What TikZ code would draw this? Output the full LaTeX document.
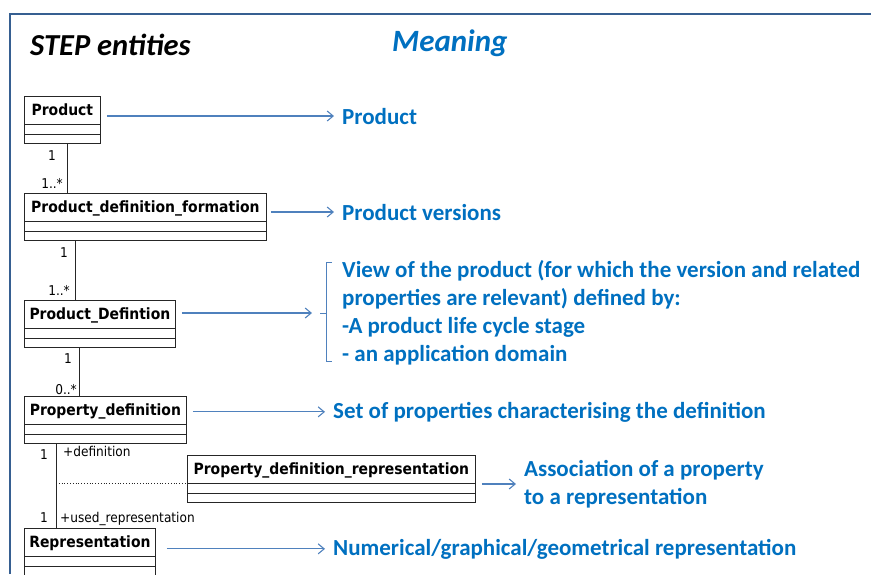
\documentclass[tikz,border=0pt]{standalone}
\usepackage{fontspec}
\setmainfont{Carlito}
\newfontfamily\umlfont{DejaVu Sans Condensed}
\usetikzlibrary{shapes.multipart,arrows.meta,positioning,calc}

\definecolor{meaningblue}{RGB}{0,112,192}
\definecolor{arrowblue}{RGB}{79,129,189}
\definecolor{framecol}{RGB}{54,95,145}

% class box: name part plus two empty compartments
\newcommand{\hdstrut}{\rule[-5pt]{0pt}{21pt}}
\newcommand{\cmpt}{\rule{0pt}{3pt}}
\newcommand{\entname}[1]{\hdstrut #1\nodepart{two}\cmpt\nodepart{three}\cmpt}

\tikzset{
  entity/.style={draw=black!85, line width=0.8pt, rectangle split, rectangle split parts=3,
    inner ysep=3pt, inner xsep=4pt, anchor=north west,
    font=\umlfont\bfseries\fontsize{15.5}{17}\selectfont},
  mult/.style={font=\umlfont\fontsize{13.5}{15}\selectfont, inner sep=0pt},
  meaning/.style={font=\bfseries\fontsize{23}{28}\selectfont, text=meaningblue, inner sep=0pt, align=left},
  flow/.style={->, arrowblue, line width=1.1pt, shorten <=6pt, shorten >=8pt},
  link/.style={black!85, line width=0.8pt},
}

\begin{document}
\begin{tikzpicture}[x=1pt, y=-1pt, >={Straight Barb[length=6pt,width=10pt]}]
\useasboundingbox (0,0) rectangle (871,574);
% frame
\draw[framecol, line width=2pt] (10,574) -- (10,14) -- (871,14);

% headings
\node[font=\bfseries\itshape\fontsize{30.5}{36}\selectfont, anchor=base west, inner sep=0pt] (title) at (30,55) {STEP entities};
\node[font=\bfseries\itshape\fontsize{31}{36}\selectfont, text=meaningblue, anchor=base west, inner sep=0pt] (head) at (392,51) {Meaning};

% STEP entities
\node[entity, minimum width=76pt] (prod) at (24,96) {\entname{Product}};
\node[entity, minimum width=242pt] (pdf) at (24,193) {\entname{Product\_definition\_formation}};
\node[entity, minimum width=151pt] (pd) at (24,300) {\entname{Product\_Defintion}};
\node[entity, minimum width=162pt] (prop) at (24,396) {\entname{Property\_definition}};
\node[entity, minimum width=288pt] (pdr) at (187,455) {\entname{Property\_definition\_representation}};
\node[entity, minimum width=131pt] (rep) at (24,528) {\entname{Representation}};

% associations
\coordinate (v1) at (67,0);
\coordinate (v2) at (75,0);
\coordinate (v3) at (79,0);
\coordinate (v4) at (56,0);
\draw[link] (prod.south -| v1) -- (pdf.north -| v1);
\draw[link] (pdf.south -| v2) -- (pd.north -| v2);
\draw[link] (pd.south -| v3) -- (prop.north -| v3);
\draw[link] (prop.south -| v4) -- (rep.north -| v4);
\draw[link, dotted] (pdr.text split west -| v4) -- (pdr.text split west);

\node[mult, anchor=base east] (m1) at (56,160) {1};
\node[mult, anchor=base east] (m2) at (63,188) {1..*};
\node[mult, anchor=base east] (m3) at (68,257) {1};
\node[mult, anchor=base east] (m4) at (70,295) {1..*};
\node[mult, anchor=base east] (m5) at (72,363) {1};
\node[mult, anchor=base east] (m6) at (77,394) {0..*};
\node[mult, anchor=base east] (m7) at (48,459) {1};
\node[mult, anchor=base west] (r1) at (63,456) {+definition};
\node[mult, anchor=base east] (m8) at (48,522) {1};
\node[mult, anchor=base west] (r2) at (60,522) {+used\_representation};

% meanings
\node[meaning, anchor=base west] (t1) at (342,124) {Product};
\node[meaning, anchor=base west] (t2) at (342,220) {Product versions};
\node[meaning, anchor=west] (t3) at (342,313) {View of the product (for which the version and related\\properties are relevant) defined by:\\-A product life cycle stage\\- an application domain};
\node[meaning, anchor=base west] (t4) at (333,418) {Set of properties characterising the definition};
\node[meaning, anchor=west] (t5) at (524,484) {Association of a property\\to a representation};
\node[meaning, anchor=base west] (t6) at (333,555) {Numerical/graphical/geometrical representation};

\draw[arrowblue, line width=0.8pt] ([xshift=-10pt,yshift=-2pt]t3.north west) -| ([xshift=-16pt,yshift=4pt]t3.south west) -- ([xshift=-10pt,yshift=4pt]t3.south west);
\draw[arrowblue, line width=0.8pt] ([xshift=-16pt]t3.west) -- ([xshift=-22pt]t3.west);

\draw[flow] (prod.east |- t1.west) -- (t1.west);
\draw[flow, shorten <=4pt] (pdf.east |- t2.west) -- (t2.west);
\draw[flow] (pd.east |- t3.west) -- ([xshift=-22pt]t3.west);
\draw[flow] (prop.east |- t4.west) -- (t4.west);
\draw[flow] (pdr.east |- t5.west) -- (t5.west);
\draw[flow, shorten <=11pt] (rep.east |- t6.west) -- (t6.west);
\end{tikzpicture}
\end{document}
